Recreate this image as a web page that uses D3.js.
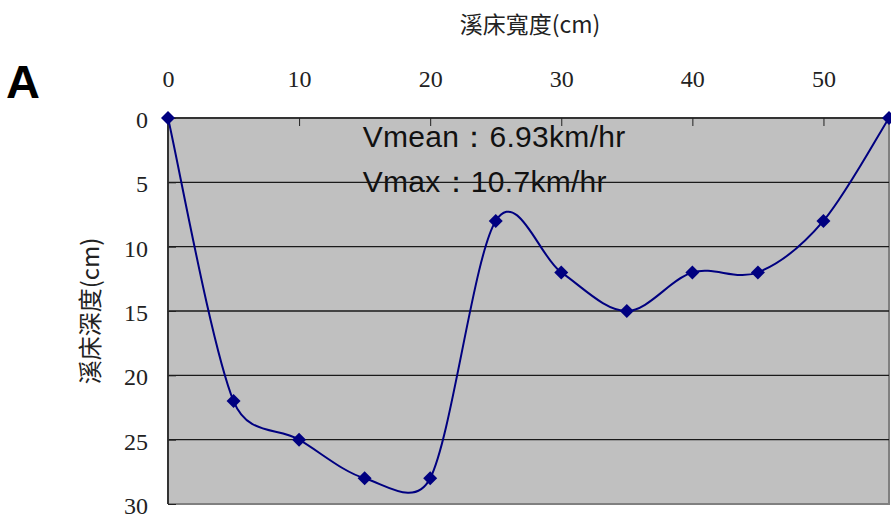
<!DOCTYPE html>
<html><head><meta charset="utf-8">
<script src="https://cdn.jsdelivr.net/npm/d3@7"></script>
<style>body{margin:0;background:#fff}
.tk text{font-family:"Liberation Serif","Times New Roman",serif;font-size:24px;fill:#222}
</style>
</head><body>
<svg id="c" width="891" height="523"></svg>
<script>
const widths = [0,5,10,15,20,25,30,35,40,45,50,55];
const depths = [0,22,25,28,28,8,12,15,12,12,8,0];
const xTicks = [0,10,20,30,40,50];
const yTicks = [0,5,10,15,20,25,30];
const xTitle = "溪床寬度(cm)";
const yTitle = "溪床深度(cm)";
const notes = ["Vmean：6.93km/hr","Vmax：10.7km/hr"];
const panel = "A";

const svg = d3.select("#c");
const L=168,R=889,T=118,B=504;
const x = d3.scaleLinear().domain([0,55]).range([L,R]);
const y = d3.scaleLinear().domain([0,30]).range([T,B]);

svg.append("rect").attr("x",L).attr("y",T).attr("width",R-L).attr("height",B-T).attr("fill","#c0c0c0");
svg.append("path").attr("d",`M${R},${T}V${B}H${L}`).attr("fill","none").attr("stroke","#808080").attr("stroke-width",2);

// notes
svg.append("g").selectAll("text").data(notes).join("text")
  .attr("x",x(15)-2).attr("y",(d,i)=>y(0)+29+i*45)
  .style("font-family","Liberation Sans, Arial, sans-serif").style("font-size","30px").style("letter-spacing","0.3px").attr("fill","#111").text(d=>d);

// gridlines
svg.append("g").selectAll("line").data(yTicks.filter(d=>d>0&&d<30)).join("line")
  .attr("x1",L).attr("x2",R).attr("y1",d=>y(d)).attr("y2",d=>y(d)).attr("stroke","#1a1a1a").attr("stroke-width",1.3);

// axes
const xa = d3.axisTop(x).tickValues(xTicks).tickSize(-8).tickPadding(31).tickFormat(d3.format("d"));
const gx = svg.append("g").attr("class","tk").attr("transform",`translate(0,${T})`).call(xa);
gx.attr("font-family",null).attr("font-size",null);
gx.select(".domain").attr("stroke","#333").attr("stroke-width",2).attr("d",`M${L},0H${R}`);
gx.selectAll(".tick line").attr("stroke","#222");

const ya = d3.axisLeft(y).tickValues(yTicks).tickSize(-8).tickPadding(20).tickFormat(d3.format("d"));
const gy = svg.append("g").attr("class","tk").attr("transform",`translate(${L},0)`).call(ya);
gy.attr("font-family",null).attr("font-size",null);
gy.select(".domain").attr("stroke","#333").attr("stroke-width",2).attr("d",`M0,${T}V${B}`);
gy.selectAll(".tick line").attr("stroke","#222");
gy.selectAll("text").attr("dy","0.4em");

// Excel-style smoothed line (Bezier, tension 1/6 capped at half segment)
const P = widths.map((w,i)=>[x(w),y(depths[i])]);
const dist=(a,b)=>Math.hypot(a[0]-b[0],a[1]-b[1]);
const p = d3.path();
p.moveTo(P[0][0],P[0][1]);
for(let i=0;i<P.length-1;i++){
  const p0=P[Math.max(i-1,0)], p1=P[i], p2=P[i+1], p3=P[Math.min(i+2,P.length-1)];
  const d02=dist(p0,p2), d12=dist(p1,p2), d13=dist(p1,p3);
  const f0 = d02/6 < d12/2 ? 1/6 : d12/(2*d02);
  const f1 = d13/6 < d12/2 ? 1/6 : d12/(2*d13);
  p.bezierCurveTo(p1[0]+(p2[0]-p0[0])*f0, p1[1]+(p2[1]-p0[1])*f0,
                  p2[0]-(p3[0]-p1[0])*f1, p2[1]-(p3[1]-p1[1])*f1, p2[0], p2[1]);
}
svg.append("path").attr("d",p.toString())
  .attr("fill","none").attr("stroke","#000080").attr("stroke-width",2);
svg.append("g").selectAll("path").data(widths).join("path")
  .attr("d",d3.symbol(d3.symbolSquare,98))
  .attr("transform",(d,i)=>`translate(${x(d)},${y(depths[i])}) rotate(45)`).attr("fill","#000080");

// titles
svg.append("text").attr("x",530).attr("y",33).attr("text-anchor","middle")
  .style("font-family","Noto Sans CJK TC, sans-serif").style("font-size","23px").attr("fill","#222").text(xTitle);
svg.append("text").attr("transform","translate(99,311) rotate(-90)").attr("text-anchor","middle")
  .style("font-family","Noto Sans CJK TC, sans-serif").style("font-size","24px").attr("fill","#222").text(yTitle);
svg.append("text").attr("x",6).attr("y",98).style("font-family","Liberation Sans, Arial, sans-serif")
  .style("font-weight","bold").style("font-size","47px").attr("fill","#000").text(panel);
</script>
</body></html>
